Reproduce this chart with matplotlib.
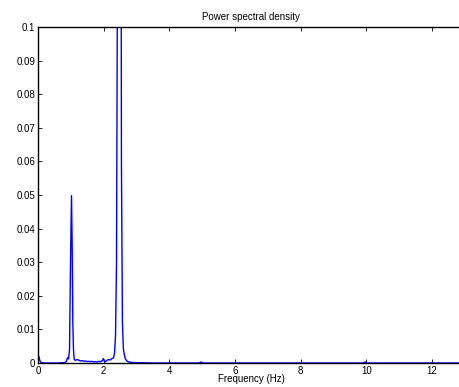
import matplotlib
matplotlib.use("Agg")
import matplotlib.pyplot as plt

# frequency (Hz) and PSD values
freq = [0.0, 0.03, 0.06, 0.1, 0.2, 0.4, 0.6, 0.8, 0.86, 0.9, 0.93, 0.96,
        0.99, 1.02, 1.04, 1.06, 1.08, 1.1, 1.13, 1.16, 1.2, 1.25, 1.3,
        1.35, 1.4, 1.45, 1.5, 1.55, 1.6, 1.65, 1.7, 1.75, 1.8, 1.85, 1.9,
        1.95, 1.99, 2.02, 2.06, 2.1, 2.15, 2.2, 2.25, 2.3, 2.33, 2.36,
        2.39, 2.42, 2.45, 2.48, 2.51, 2.54, 2.57, 2.6, 2.65, 2.7, 2.8,
        3.0, 3.5, 4.0, 4.5, 4.9, 4.96, 5.02, 5.5, 6.0, 7.0, 8.0, 9.0,
        9.9, 9.96, 10.02, 11.0, 12.0, 13.0]
psd = [0.0024, 0.0018, 0.0006, 0.0001, 0.0, 0.0, 0.0, 0.0001, 0.0004,
       0.0016, 0.0012, 0.004, 0.03, 0.0498, 0.035, 0.012, 0.004, 0.0012,
       0.0008, 0.0009, 0.0010, 0.0008, 0.0006, 0.0007, 0.0005, 0.0006,
       0.0004, 0.0005, 0.0004, 0.0005, 0.0003, 0.0004, 0.0003, 0.0005,
       0.0004, 0.0006, 0.0013, 0.0005, 0.0004, 0.0008, 0.0010, 0.0009,
       0.0013, 0.0015, 0.0030, 0.0080, 0.03, 0.12, 0.40, 0.60, 0.30,
       0.06, 0.012, 0.004, 0.0015, 0.0006, 0.0002, 0.0001, 0.0, 0.0,
       0.0, 0.0, 0.0003, 0.0, 0.0, 0.0, 0.0, 0.0, 0.0, 0.0, 0.0003,
       0.0, 0.0, 0.0, 0.0]

plt.rcParams['font.family'] = ['Liberation Sans', 'DejaVu Sans']
plt.rcParams['font.size'] = 7

fig = plt.figure(figsize=(4.59, 3.87), dpi=100)
ax = fig.add_axes([38 / 459, 24 / 387, 426 / 459, 336 / 387])
ax.plot(freq, psd, color='#0000ff', linewidth=1.0)
ax.set_title("Power spectral density", fontsize=7, pad=5)
ax.set_xlabel("Frequency (Hz)", fontsize=7, labelpad=-1)
ax.set_xlim(0, 12.97)
ax.set_ylim(0, 0.1)
ax.set_xticks([0, 2, 4, 6, 8, 10, 12])
ax.set_yticks([0, 0.01, 0.02, 0.03, 0.04, 0.05, 0.06, 0.07, 0.08, 0.09, 0.1])
ax.set_yticklabels(['0', '0.01', '0.02', '0.03', '0.04', '0.05', '0.06',
                    '0.07', '0.08', '0.09', '0.1'])
ax.tick_params(direction='in', top=True, right=True, length=3, width=0.6,
               labelsize=7, pad=2)
for s in ax.spines.values():
    s.set_linewidth(1.0)

fig.savefig("out.png", dpi=100)
